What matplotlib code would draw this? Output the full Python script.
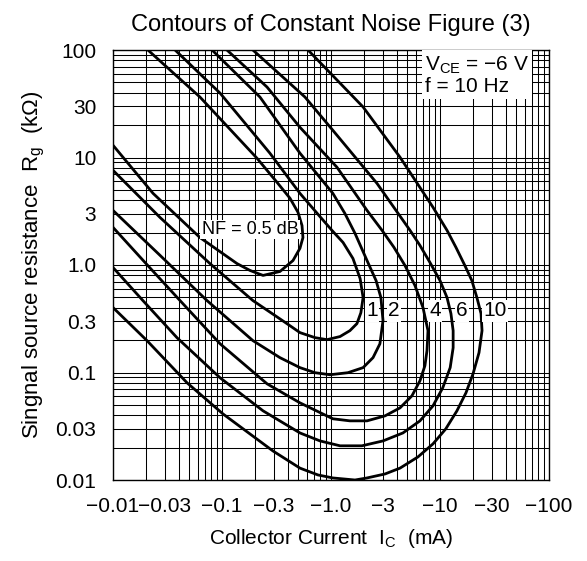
import numpy as np
import matplotlib
matplotlib.use("Agg")
import matplotlib.pyplot as plt
from matplotlib.ticker import FixedLocator, NullFormatter

plt.rcParams["font.family"] = ["Liberation Sans", "DejaVu Sans"]
plt.rcParams["mathtext.default"] = "regular"

# axis ticks (values are magnitudes, labels carry the minus sign)
x_ticks = [0.01, 0.03, 0.1, 0.3, 1, 3, 10, 30, 100]
x_ticklabels = ["\u22120.01", "\u22120.03", "\u22120.1", "\u22120.3", "\u22121.0",
                "\u22123", "\u221210", "\u221230", "\u2212100"]
y_ticks = [0.01, 0.03, 0.1, 0.3, 1, 3, 10, 30, 100]
y_ticklabels = ["0.01", "0.03", "0.1", "0.3", "1.0", "3", "10", "30", "100"]

# contours, collector current |Ic| (mA) vs source resistance Rg (kOhm)
nf05_i = [0.01, 0.0233, 0.0628, 0.1375, 0.181, 0.238, 0.340, 0.448, 0.519, 0.553,
          0.542, 0.498, 0.421, 0.320, 0.2095, 0.0628, 0.0209]
nf05_r = [13.0, 4.64, 1.80, 1.03, 0.889, 0.80, 0.870, 1.10, 1.43, 1.80,
          2.33, 3.09, 4.17, 5.87, 9.84, 36.5, 100]

nf1_i = [0.01, 0.0270, 0.0776, 0.192, 0.394, 0.519, 0.713, 0.918, 1.21, 1.49, 1.73,
         1.88, 1.97, 1.85, 1.59, 1.29, 1.02, 0.760, 0.519, 0.275, 0.096, 0.0371]
nf1_r = [7.60, 2.77, 1.03, 0.467, 0.285, 0.235, 0.211, 0.202, 0.216, 0.245, 0.285,
         0.360, 0.498, 0.748, 1.15, 1.62, 2.10, 2.96, 4.64, 10.97, 39.7, 100]

nf2_i = [0.01, 0.0270, 0.0728, 0.192, 0.340, 0.519, 0.713, 0.98, 1.43, 1.97, 2.43,
         2.81, 3.00, 2.87, 2.59, 2.18, 1.66, 1.34, 1.04, 0.519, 0.223, 0.081]
nf2_r = [3.22, 1.23, 0.467, 0.198, 0.1375, 0.111, 0.0996, 0.0953, 0.0996, 0.111, 0.1375,
         0.185, 0.304, 0.498, 0.717, 1.055, 1.97, 3.02, 4.64, 10.97, 36.5, 100]

nf4_i = [0.01, 0.0201, 0.0412, 0.096, 0.259, 0.519, 1.04, 1.49, 2.14, 3.13, 4.30, 5.53,
         6.55, 7.27, 7.60, 7.76, 6.98, 5.89, 4.77, 3.78, 2.94, 2.14, 1.135, 0.519,
         0.259, 0.111]
nf4_r = [2.24, 1.03, 0.467, 0.185, 0.0785, 0.0522, 0.0371, 0.0355, 0.0355, 0.0395,
         0.0469, 0.0607, 0.0838, 0.1156, 0.160, 0.245, 0.402, 0.645, 0.99, 1.46, 2.10,
         3.22, 8.11, 19.1, 45.2, 100]

nf6_i = [0.01, 0.0188, 0.0386, 0.096, 0.238, 0.519, 0.793, 1.21, 1.92, 3.00, 4.57,
         6.55, 8.63, 10.6, 12.4, 13.2, 13.2, 12.6, 11.6, 10.0, 8.09, 6.55, 5.31, 2.64,
         1.04, 0.577, 0.192]
nf6_r = [0.948, 0.467, 0.211, 0.0893, 0.044, 0.0274, 0.0231, 0.0208, 0.0208, 0.0231,
         0.0274, 0.0355, 0.049, 0.0721, 0.111, 0.170, 0.245, 0.353, 0.498, 0.717,
         1.055, 1.52, 2.10, 5.75, 17.9, 36.5, 100]

nf10_i = [0.01, 0.0205, 0.0478, 0.102, 0.294, 0.519, 0.760, 1.04, 1.66, 2.14, 3.13,
          4.30, 6.28, 8.63, 11.3, 14.3, 17.3, 20.1, 22.8, 24.3, 23.8, 21.8, 19.6, 16.9,
          14.0, 11.6, 8.63, 4.30, 1.97, 0.615]
nf10_r = [0.402, 0.198, 0.0802, 0.0412, 0.0186, 0.0129, 0.01114, 0.01045, 0.0100,
          0.01045, 0.01138, 0.0129, 0.0164, 0.0217, 0.0299, 0.044, 0.0647, 0.0973,
          0.153, 0.245, 0.353, 0.498, 0.717, 0.99, 1.46, 2.10, 3.44, 10.05, 29.5, 100]

# curve labels
lbl_text = ["1", "2", "4", "6", "10"]
lbl_i = [2.38, 3.78, 9.0, 15.9, 32.0]
lbl_r = [0.377, 0.377, 0.377, 0.377, 0.377]

fig = plt.figure(figsize=(5.87, 5.61), dpi=100)
ax = fig.add_axes([113 / 587, 1 - 480 / 561, 436 / 587, 430 / 561])
ax.set_xscale("log")
ax.set_yscale("log")
ax.set_xlim(0.01, 100)
ax.set_ylim(0.01, 100)

minor = [m * 10.0 ** e for e in range(-2, 2) for m in range(1, 10)] + [100]
ax.xaxis.set_minor_locator(FixedLocator(minor))
ax.yaxis.set_minor_locator(FixedLocator(minor))
ax.xaxis.set_minor_formatter(NullFormatter())
ax.yaxis.set_minor_formatter(NullFormatter())
ax.set_xticks(x_ticks, x_ticklabels)
ax.set_yticks(y_ticks, y_ticklabels)
ax.tick_params(which="both", length=0, labelsize=15, pad=12)
ax.grid(True, which="both", color="black", lw=0.75)
ax.set_axisbelow(True)
for s in ax.spines.values():
    s.set_linewidth(1.0)

for xs, ys in [(nf05_i, nf05_r), (nf1_i, nf1_r), (nf2_i, nf2_r),
               (nf4_i, nf4_r), (nf6_i, nf6_r), (nf10_i, nf10_r)]:
    ax.plot(xs, ys, color="black", lw=2.0, zorder=3)

box = dict(facecolor="white", edgecolor="none", pad=1.0)
for t, xi, yi in zip(lbl_text, lbl_i, lbl_r):
    ax.text(xi, yi, t, fontsize=15, ha="center", va="center", bbox=box, zorder=4)

ax.text(0.181, 2.14, "NF = 0.5 dB", fontsize=13, ha="center", va="center",
        bbox=box, zorder=4)

ax.text(0.715, 0.99, "V$_{CE}$ = \u22126 V\nf = 10 Hz", transform=ax.transAxes,
        fontsize=15, ha="left", va="top", linespacing=1.1,
        bbox=dict(facecolor="white", edgecolor="none", pad=2.0), zorder=4)

ax.set_title("Contours of Constant Noise Figure (3)", fontsize=17, pad=14)
ax.set_xlabel("Collector Current  I$_C$  (mA)", fontsize=15, labelpad=8)
ax.set_ylabel("Singnal source resistance  R$_g$  (k\u03a9)", fontsize=16, labelpad=6)

fig.savefig("out.png", dpi=100)
